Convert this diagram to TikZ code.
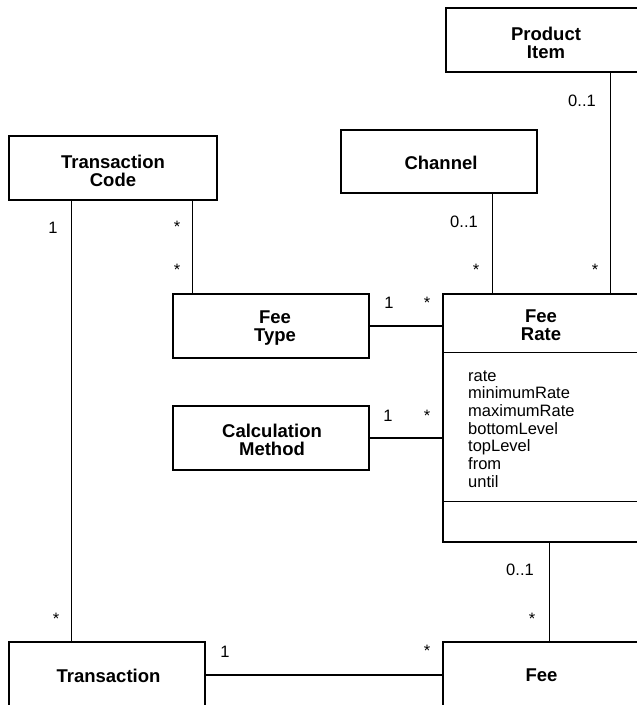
\documentclass[tikz,border=0pt]{standalone}
\usepackage{fontspec}
\setmainfont{Liberation Sans}
\begin{document}
\begin{tikzpicture}[x=1pt,y=-1pt,
  cls/.style={draw, line width=1.1pt, inner sep=0pt},
  title/.style={font=\fontsize{18.5}{18}\selectfont\bfseries, align=center, inner sep=0pt},
  mult/.style={font=\fontsize{16.5}{17.7}\selectfont, inner sep=0pt, anchor=base},
  attr/.style={font=\fontsize{16.5}{17.7}\selectfont, inner sep=0pt, anchor=base west},
  assoc/.style={line width=1.1pt}]
\useasboundingbox (0,0) rectangle (637,705);

% class boxes
\node[cls, minimum width=200pt, minimum height=64pt]  (pi) at (546,40)    {};
\node[cls, minimum width=196pt, minimum height=63pt]  (ch) at (439,161.5) {};
\node[cls, minimum width=208pt, minimum height=64pt]  (tc) at (113,168)   {};
\node[cls, minimum width=196pt, minimum height=64pt]  (ft) at (271,326)   {};
\node[cls, minimum width=196pt, minimum height=64pt]  (cm) at (271,438)   {};
\node[cls, minimum width=196pt, minimum height=248pt] (fr) at (541,418)   {};
\node[cls, minimum width=196pt, minimum height=66pt]  (tx) at (107,675)   {};
\node[cls, minimum width=196pt, minimum height=66pt]  (fe) at (541,675)   {};

% compartments of Fee Rate
\draw[assoc] ([yshift=-59pt]fr.north west) -- ([yshift=-59pt]fr.north east);
\draw[assoc] ([yshift=-208pt]fr.north west) -- ([yshift=-208pt]fr.north east);

% class names
\node[title] (piT) at (546,42.5) {Product\\Item};
\node[title] (chT) at (441,162.5) {Channel};
\node[title] (tcT) at (113,171) {Transaction\\Code};
\node[title] (ftT) at (275,328.5) {Fee\\Type};
\node[title] (frT) at (541,325) {Fee\\Rate};
\node[title] (cmT) at (272,440) {Calculation\\Method};
\node[title] (txT) at (108.5,675.5) {Transaction};
\node[title] (feT) at (541.5,675.5) {Fee};

% attributes of Fee Rate
\foreach \a [count=\i] in {rate,minimumRate,maximumRate,bottomLevel,topLevel,from,until}
  \node[attr] (at\i) at (468,{381+17.7*(\i-1)}) {\a};

% associations
\draw[assoc] ([xshift=63pt]tc.south west) -- ([xshift=63pt]tx.north west);
\draw[assoc] ([xshift=184pt]tc.south west) -- ([xshift=20pt]ft.north west);
\draw[assoc] ([xshift=152pt]ch.south west) -- ([xshift=50pt]fr.north west);
\draw[assoc] ([xshift=165pt]pi.south west) -- ([xshift=168pt]fr.north west);
\draw[assoc] (ft.east) -- (ft.east -| fr.west);
\draw[assoc] (cm.east) -- (cm.east -| fr.west);
\draw[assoc] ([xshift=107pt]fr.south west) -- ([xshift=107pt]fe.north west);
\draw[assoc] (tx.east) -- (tx.east -| fe.west);

% multiplicities
\node[mult] (m1)  at (582,106)   {0..1};
\node[mult] (m2)  at (53,233)    {1};
\node[mult] (m3)  at (177,232.5) {*};
\node[mult] (m4)  at (177,275.5) {*};
\node[mult] (m5)  at (464,227)   {0..1};
\node[mult] (m6)  at (476,275.5) {*};
\node[mult] (m7)  at (595,275.5) {*};
\node[mult] (m8)  at (389,308)   {1};
\node[mult] (m9)  at (427,308.5) {*};
\node[mult] (m10) at (388,421)   {1};
\node[mult] (m11) at (427,421)   {*};
\node[mult] (m12) at (520,575)   {0..1};
\node[mult] (m13) at (532,624)   {*};
\node[mult] (m14) at (56,624)    {*};
\node[mult] (m15) at (225,657)   {1};
\node[mult] (m16) at (427,656)   {*};
\end{tikzpicture}
\end{document}
